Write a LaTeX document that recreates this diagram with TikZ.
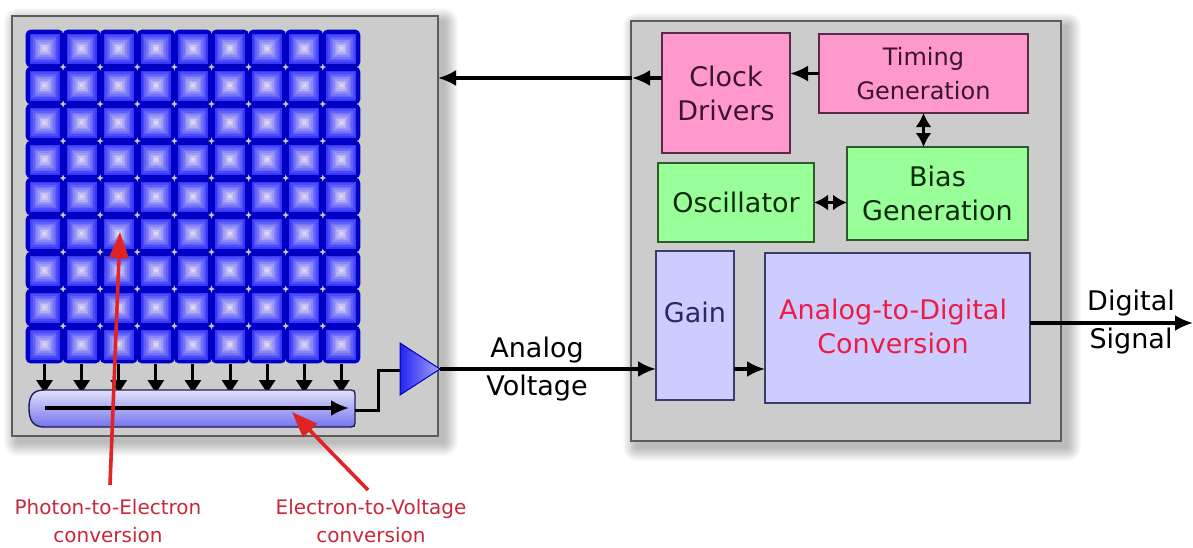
\documentclass[tikz,border=0pt]{standalone}
\usepackage{fontspec}
\setmainfont{DejaVu Sans}
\usetikzlibrary{arrows.meta}
\definecolor{gboxfill}{HTML}{CCCCCC}
\definecolor{gboxline}{HTML}{5C5C5C}
\definecolor{pinkfill}{HTML}{FF99CC}
\definecolor{pinkline}{HTML}{5A2A48}
\definecolor{pinktext}{HTML}{3C1430}
\definecolor{greenfill}{HTML}{99FF99}
\definecolor{greenline}{HTML}{2E5A2E}
\definecolor{greentext}{HTML}{0C2A0C}
\definecolor{lavfill}{HTML}{CCCCFF}
\definecolor{lavline}{HTML}{3C3C6C}
\definecolor{gaintext}{HTML}{28286A}
\definecolor{adctext}{HTML}{EE1C44}
\definecolor{redline}{HTML}{E02424}
\definecolor{redtext}{HTML}{C8283A}
\definecolor{pixdark}{HTML}{0000C4}
\definecolor{pixlo}{HTML}{3838FA}
\definecolor{pixhi}{HTML}{DCD6F2}
\definecolor{regtop}{HTML}{E2E2FA}
\definecolor{regbot}{HTML}{7474EE}
\definecolor{regline}{HTML}{1E1E50}
\definecolor{amplo}{HTML}{2424EE}
\definecolor{amphi}{HTML}{A4A4FF}
\newcommand\fsbig{\fontsize{27}{34}\selectfont}
\newcommand\fstim{\fontsize{24}{34}\selectfont}
\newcommand\fsav{\fontsize{27}{38}\selectfont}
\newcommand\fsred{\fontsize{20}{28}\selectfont}
\tikzset{
  box/.style={draw, line width=1.5pt, inner sep=0pt, outer sep=0pt, align=center},
  gbox/.style={box, fill=gboxfill, draw=gboxline},
  pinkbox/.style={box, fill=pinkfill, draw=pinkline, text=pinktext},
  greenbox/.style={box, fill=greenfill, draw=greenline, text=greentext},
  lavbox/.style={box, fill=lavfill, draw=lavline},
  arr/.style={line width=3.2pt, -{Latex[length=18pt,width=16pt]}},
  darr/.style={line width=3.2pt, {Latex[length=14pt,width=16pt]}-{Latex[length=14pt,width=16pt]}},
  downarr/.style={line width=3pt, -{Triangle[length=13pt,width=16pt]}},
  redarr/.style={draw=redline, line width=3.6pt, -{Triangle[length=26pt,width=19pt]}},
  redlabel/.style={text=redtext, align=center, inner sep=0pt, font=\fsred},
}
\begin{document}
\begin{tikzpicture}[x=1pt,y=-1pt]
\useasboundingbox (0,0) rectangle (1193,547);
\fill[white] (0,0) rectangle (1193,547);
% soft shadows
\foreach \i in {1,...,14} {
  \fill[black,opacity=0.018,rounded corners=\i pt] (18-\i,22-\i) rectangle (444+\i,442+\i);
  \fill[black,opacity=0.018,rounded corners=\i pt] (637-\i,27-\i) rectangle (1067+\i,447+\i);
}
% main boxes
\node[gbox, minimum width=426, minimum height=420] (lbox) at (225,226) {};
\node[gbox, minimum width=430, minimum height=420] (rbox) at (846,231) {};
% pixel array
\foreach \r in {0,...,8} {
  \foreach \c in {0,...,8} {
    \pgfmathsetmacro\cx{26+37.1*\c+18.55}
    \pgfmathsetmacro\cy{30+37*\r+18.5}
    \fill[pixdark, rounded corners=5pt] (\cx-18.9,\cy-18.9) rectangle (\cx+18.9,\cy+18.9);
    \foreach \k in {0,...,8} {
      \pgfmathsetmacro\h{15*(1-\k/9)}
      \pgfmathtruncatemacro\m{\k*100/8}
      \fill[pixhi!\m!pixlo] (\cx-\h,\cy-\h) rectangle (\cx+\h,\cy+\h);
    }
  }
}
% transfer arrows
\foreach \c in {0,...,8} {
  \pgfmathsetmacro\cx{26+37.1*\c+18.55}
  \draw[downarr] (\cx,364) -- (\cx,393);
}
% readout register
\path[draw=regline, line width=1.4pt, top color=regtop, bottom color=regbot]
  (44,390) -- (351,390) .. controls (354,390) and (355,391) .. (355,394)
  -- (355,423) .. controls (355,426) and (354,427) .. (351,427)
  -- (44,427) .. controls (33,427) and (29,420) .. (29,408)
  .. controls (29,396) and (33,390) .. (44,390) -- cycle;
\coordinate (regin) at (45,408);
\coordinate (regend) at (349,408);
\draw[arr] (regin) -- (regend);
% amplifier
\coordinate (regout) at (355,410);
\coordinate (ampin) at (400,370);
\coordinate (amptip) at (440,369);
\path[draw=pixdark, line width=1pt, left color=amplo, right color=amphi] (400,343) -- (amptip) -- (400,395) -- cycle;
\draw[line width=3pt] (regout) -- (378,410) -- (378,370) -- (ampin);
% right-side blocks
\node[pinkbox, minimum width=128, minimum height=120, font=\fsbig] (clk) at (726,93) {Clock\\Drivers};
\node[pinkbox, minimum width=209, minimum height=79, font=\fstim] (tim) at (923.5,73.5) {Timing\\Generation};
\node[greenbox, minimum width=181, minimum height=93, font=\fsbig] (bias) at (937.5,193.5) {Bias\\Generation};
\node[greenbox, minimum width=156, minimum height=79, font=\fsbig] (osc) at (736,202.5) {Oscillator};
\node[lavbox, minimum width=78, minimum height=149] (gain) at (695,325.5) {};
\node[font=\fsbig, text=gaintext] (gaint) at (695,312) {Gain};
\node[lavbox, minimum width=265, minimum height=150] (adc) at (897.5,328) {};
\node[font=\fsbig, text=adctext, align=center] (adct) at (893,326) {Analog-to-Digital\\Conversion};
% connectors
\coordinate (clkout) at (632,78);
\draw[arr] (clk.west |- clkout) -- (clkout);
\draw[arr] (clkout) -- (lbox.east |- clkout);
\draw[arr] (tim.west) -- (tim.west -| clk.east);
\draw[darr] (tim.south) -- (tim.south |- bias.north);
\draw[darr] (osc.east) -- (osc.east -| bias.west);
\draw[arr] (amptip) -- (gain.west |- amptip);
\draw[arr] (gain.east |- amptip) -- (adc.west |- amptip);
\coordinate (digout) at (1193,323);
\draw[arr] (adc.east |- digout) -- (digout);
\node[font=\fsav, align=center] (av) at (537,369) {Analog\\Voltage};
\node[font=\fsav, align=center] (dig) at (1131,322) {Digital\\Signal};
% red annotations
\node[redlabel, anchor=north] (pe) at (108,499) {Photon-to-Electron\\conversion};
\node[redlabel, anchor=north] (ev) at (371,499) {Electron-to-Voltage\\conversion};
\coordinate (peA) at (110,485);
\coordinate (peB) at (120,232);
\coordinate (evA) at (368,490);
\coordinate (evB) at (292,412);
\draw[redarr] (peA) -- (peB);
\draw[redarr] (evA) -- (evB);
\end{tikzpicture}
\end{document}
